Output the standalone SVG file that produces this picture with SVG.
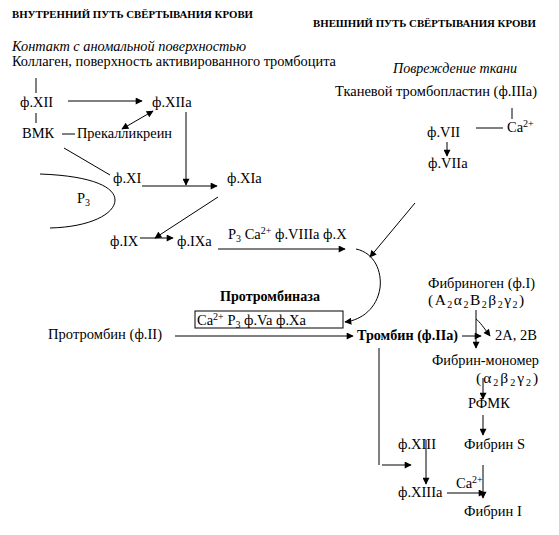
<svg xmlns="http://www.w3.org/2000/svg" width="559" height="535" viewBox="0 0 559 535">
<style>
text{font-family:"Liberation Serif","Times New Roman",serif;font-size:14.5px;fill:#000}
.b{font-weight:bold}
.t{font-weight:bold;font-size:11px}
.i{font-style:italic}
.s{font-size:10px}
.f{font-size:15.5px;letter-spacing:1.5px}
.ln{stroke:#000;stroke-width:1;fill:none}
</style>
<defs>
<marker id="ah" viewBox="0 0 10 10" refX="9" refY="5" markerWidth="9" markerHeight="7" markerUnits="userSpaceOnUse" orient="auto">
<path d="M0,0 L10,5 L0,10 Z" fill="#000"/>
</marker>
<marker id="as" viewBox="0 0 10 10" refX="1" refY="5" markerWidth="9" markerHeight="7" markerUnits="userSpaceOnUse" orient="auto">
<path d="M10,0 L0,5 L10,10 Z" fill="#000"/>
</marker>
</defs>
<rect width="559" height="535" fill="#fff"/>

<g id="titles">
<text class="t" x="12" y="18" textLength="241" lengthAdjust="spacingAndGlyphs">ВНУТРЕННИЙ ПУТЬ СВЁРТЫВАНИЯ КРОВИ</text>
<text class="t" x="313" y="27" textLength="223" lengthAdjust="spacingAndGlyphs">ВНЕШНИЙ ПУТЬ СВЁРТЫВАНИЯ КРОВИ</text>
</g>

<g id="connectors">
<line class="ln" x1="36" y1="78" x2="36" y2="93"/>
<line class="ln" x1="68" y1="101" x2="142" y2="101" marker-end="url(#ah)"/>
<line class="ln" x1="36" y1="113" x2="36" y2="123"/>
<line class="ln" x1="62" y1="134" x2="75" y2="134"/>
<line class="ln" x1="122" y1="129" x2="153" y2="111" marker-start="url(#as)" marker-end="url(#ah)"/>
<line class="ln" x1="186" y1="112" x2="186" y2="185" marker-end="url(#ah)"/>
<line class="ln" x1="64" y1="148" x2="110" y2="175"/>
<line class="ln" x1="142" y1="186" x2="217" y2="186" marker-end="url(#ah)"/>
<path class="ln" d="M40,174 C95,176 115,188 115,200 C115,214 90,227 50,228"/>
<line class="ln" x1="218" y1="197" x2="155" y2="238" marker-end="url(#ah)"/>
<line class="ln" x1="140" y1="238" x2="173" y2="238" marker-end="url(#ah)"/>
<line class="ln" x1="218" y1="249" x2="345" y2="249" marker-end="url(#ah)"/>
<path class="ln" d="M356,249 C375,253 382,272 380,288 C377,308 362,320 345,322" marker-end="url(#ah)"/>
<line class="ln" x1="415" y1="203" x2="370" y2="257" marker-end="url(#ah)"/>
<line class="ln" x1="512" y1="108" x2="512" y2="119"/>
<line class="ln" x1="476" y1="128" x2="503" y2="128"/>
<line class="ln" x1="447" y1="142" x2="447" y2="156" marker-end="url(#ah)"/>
<line class="ln" x1="175" y1="336" x2="353" y2="336" marker-end="url(#ah)"/>
<line class="ln" x1="462" y1="336" x2="481" y2="336" marker-end="url(#ah)"/>
<line class="ln" x1="476" y1="310" x2="476" y2="348" marker-end="url(#ah)"/>
<path class="ln" d="M476,319 C480,322 484,328 490,336" marker-end="url(#ah)"/>
<line class="ln" x1="483" y1="378" x2="483" y2="399" marker-end="url(#ah)"/>
<line class="ln" x1="483" y1="415" x2="483" y2="435" marker-end="url(#ah)"/>
<line class="ln" x1="483" y1="465" x2="483" y2="498" marker-end="url(#ah)"/>
<line class="ln" x1="379" y1="348" x2="379" y2="465"/>
<line class="ln" x1="382" y1="465" x2="411" y2="465" marker-end="url(#ah)"/>
<line class="ln" x1="426" y1="440" x2="426" y2="484" marker-end="url(#ah)"/>
<line class="ln" x1="447" y1="493" x2="485" y2="493" marker-end="url(#ah)"/>
</g>

<g id="contact">
<text class="i" x="12" y="51" textLength="234" lengthAdjust="spacingAndGlyphs">Контакт с аномальной поверхностью</text>
<text x="12" y="66" textLength="324" lengthAdjust="spacingAndGlyphs">Коллаген, поверхность активированного тромбоцита</text>
</g>
<g id="fXII"><text x="20" y="107">ф.XII</text></g>
<g id="fXIIa"><text x="152" y="107">ф.XIIа</text></g>
<g id="vmk"><text x="22" y="138">ВМК</text></g>
<g id="prekallikrein"><text x="77" y="138" textLength="95" lengthAdjust="spacingAndGlyphs">Прекалликреин</text></g>
<g id="fXI"><text x="113" y="183">ф.XI</text></g>
<g id="fXIa"><text x="227" y="183">ф.XIа</text></g>
<g id="p3"><text x="77" y="203">P<tspan class="s" dy="3">3</tspan></text></g>
<g id="fIX"><text x="110" y="246">ф.IX</text></g>
<g id="fIXa"><text x="177" y="246">ф.IXа</text></g>
<g id="tenase"><text x="228" y="239">P<tspan class="s" dy="3">3</tspan><tspan dy="-3"> Ca</tspan><tspan class="s" dy="-5">2+</tspan><tspan dy="5"> ф.VIIIa ф.X</tspan></text></g>

<g id="damage">
<text class="i" x="393" y="73" textLength="124" lengthAdjust="spacingAndGlyphs">Повреждение ткани</text>
<text x="335" y="96" textLength="202" lengthAdjust="spacingAndGlyphs">Тканевой тромбопластин (ф.IIIа)</text>
</g>
<g id="ca1"><text x="507" y="132">Ca<tspan class="s" dy="-5">2+</tspan></text></g>
<g id="fVII"><text x="427" y="137">ф.VII</text></g>
<g id="fVIIa"><text x="428" y="168">ф.VIIа</text></g>

<g id="prothrombinase">
<text class="b" x="220" y="301" textLength="100" lengthAdjust="spacingAndGlyphs">Протромбиназа</text>
<rect x="195" y="311" width="148" height="17" fill="#fff" stroke="#000" stroke-width="1"/>
<text x="197" y="325">Ca<tspan class="s" dy="-5">2+</tspan><tspan dy="5"> P</tspan><tspan class="s" dy="3">3</tspan><tspan dy="-3"> ф.Va ф.Xa</tspan></text>
</g>
<g id="prothrombin"><text x="48" y="339" textLength="114" lengthAdjust="spacingAndGlyphs">Протромбин (ф.II)</text></g>
<g id="thrombin"><text class="b" x="357" y="340" textLength="101" lengthAdjust="spacingAndGlyphs">Тромбин (ф.IIа)</text></g>

<g id="fibrinogen">
<text x="428" y="288" textLength="107" lengthAdjust="spacingAndGlyphs">Фибриноген (ф.I)</text>
<text class="f" x="428" y="305">(A<tspan class="s" dy="3">2</tspan><tspan dy="-3">α</tspan><tspan class="s" dy="3">2</tspan><tspan dy="-3">B</tspan><tspan class="s" dy="3">2</tspan><tspan dy="-3">β</tspan><tspan class="s" dy="3">2</tspan><tspan dy="-3">γ</tspan><tspan class="s" dy="3">2</tspan><tspan dy="-3">)</tspan></text>
</g>
<g id="ab"><text x="495" y="340">2A, 2B</text></g>
<g id="monomer">
<text x="432" y="365" textLength="107" lengthAdjust="spacingAndGlyphs">Фибрин-мономер</text>
<text class="f" x="476" y="383" style="letter-spacing:2px">(α<tspan class="s" dy="3">2</tspan><tspan dy="-3">β</tspan><tspan class="s" dy="3">2</tspan><tspan dy="-3">γ</tspan><tspan class="s" dy="3">2</tspan><tspan dy="-3">)</tspan></text>
</g>
<g id="rfmk"><text x="468" y="408">РФМК</text></g>
<g id="fibrinS"><text x="464" y="449">Фибрин S</text></g>
<g id="fXIII"><text x="398" y="449">ф.XIII</text></g>
<g id="fXIIIa"><text x="398" y="497">ф.XIIIа</text></g>
<g id="ca2"><text x="456" y="488">Ca<tspan class="s" dy="-5">2+</tspan></text></g>
<g id="fibrinI"><text x="464" y="516">Фибрин I</text></g>
</svg>
